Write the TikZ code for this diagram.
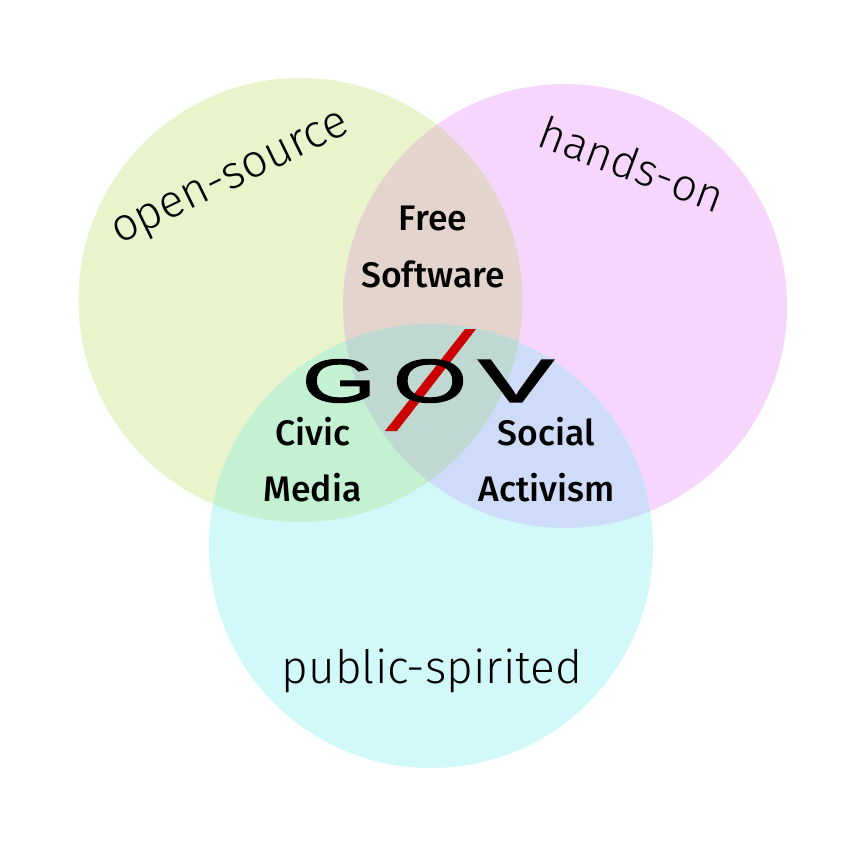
\documentclass[tikz,border=0pt]{standalone}
\usepackage{fontspec}
\setmainfont{Fira Sans}
\newfontfamily\lightfont{Fira Sans Light}
\newfontfamily\medfont{Fira Sans Medium}
\newfontfamily\govfont[FakeBold=2]{Liberation Sans}
\definecolor{cG}{HTML}{E9F4CD}
\definecolor{cM}{HTML}{F7D6FD}
\definecolor{cC}{HTML}{D2F9FA}
\definecolor{cGM}{HTML}{E3D5CD}
\definecolor{cGC}{HTML}{C3F1D2}
\definecolor{cMC}{HTML}{CEDBF9}
\definecolor{cGMC}{HTML}{BFD8D2}
\definecolor{slash}{HTML}{CC0000}
\tikzset{
  x=1pt,y=-1pt,
  biglabel/.style={font=\lightfont\fontsize{46}{50}\selectfont,inner sep=0pt,text=black},
  midlabel/.style={font=\medfont\fontsize{35.5}{38}\selectfont,inner sep=0pt,text=black},
  govletter/.style={font=\govfont\fontsize{61}{61}\selectfont,inner sep=0pt,text=black}
}
\newcommand{\circG}{(300.5,300) circle[radius=222]}
\newcommand{\circM}{(565,306) circle[radius=222]}
\newcommand{\circC}{(431,546) circle[radius=222]}
\begin{document}
\begin{tikzpicture}
\useasboundingbox (0,0) rectangle (866,847);
\fill[white] (0,0) rectangle (866,847);
\fill[cG] \circG;
\fill[cM] \circM;
\fill[cC] \circC;
\begin{scope}\clip \circG; \fill[cGM] \circM; \end{scope}
\begin{scope}\clip \circG; \fill[cGC] \circC; \end{scope}
\begin{scope}\clip \circM; \fill[cMC] \circC; \end{scope}
\begin{scope}\clip \circG; \clip \circM; \fill[cGMC] \circC; \end{scope}
\fill[slash] (465,329) -- (476,329) -- (397,431) -- (385,431) -- cycle;
\node[govletter,xscale=1.55] (gG) at (339,381) {G};
\node[govletter,xscale=1.55] (gO) at (430,381) {O};
\node[govletter,xscale=1.85] (gV) at (516,381) {V};
\node[biglabel,rotate=26] (os) at (232,181.5) {open-source};
\node[biglabel,font=\lightfont\fontsize{45}{50}\selectfont,rotate=-20.5] (ho) at (632,164) {hands-on};
\node[biglabel] (ps) at (432,671) {public-spirited};
\node[midlabel] (free) at (433,218) {Free};
\node[midlabel] (soft) at (433,274) {Software};
\node[midlabel] (civic) at (313,432) {Civic};
\node[midlabel] (media) at (312.5,488) {Media};
\node[midlabel] (social) at (546,432) {Social};
\node[midlabel] (act) at (546.5,488) {Activism};
\end{tikzpicture}
\end{document}
